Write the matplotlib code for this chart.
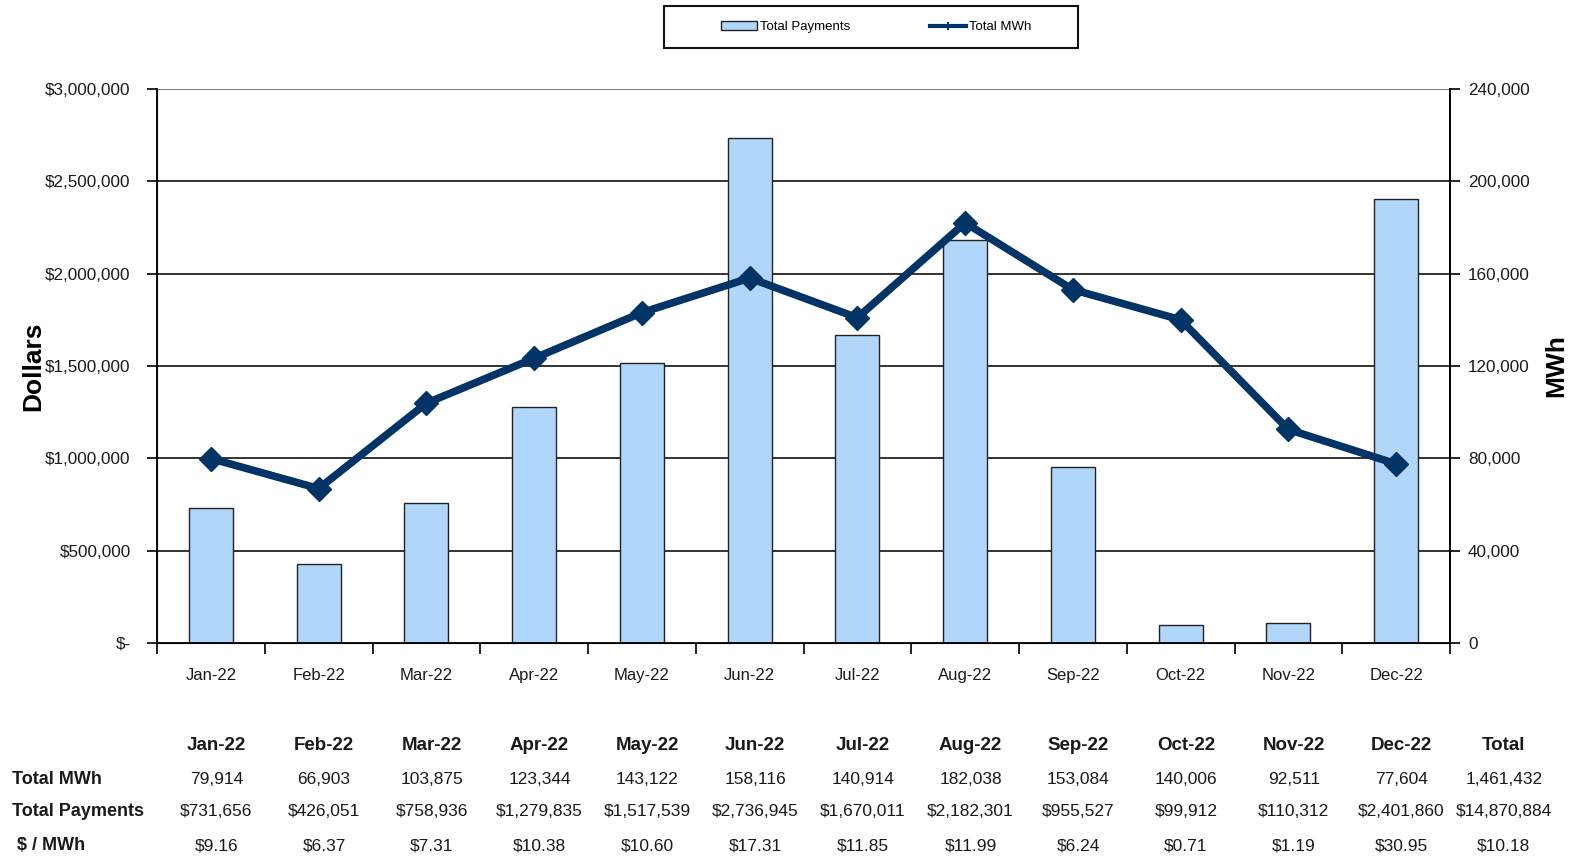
import numpy as np
import matplotlib
matplotlib.use("Agg")
import matplotlib.pyplot as plt
from matplotlib.lines import Line2D
from matplotlib.patches import Patch, Rectangle
from matplotlib.ticker import FuncFormatter, MultipleLocator, FixedLocator
from matplotlib.transforms import blended_transform_factory

plt.rcParams['font.family'] = ['Liberation Sans', 'DejaVu Sans']

months = ['Jan-22', 'Feb-22', 'Mar-22', 'Apr-22', 'May-22', 'Jun-22',
          'Jul-22', 'Aug-22', 'Sep-22', 'Oct-22', 'Nov-22', 'Dec-22']
total_mwh = [79914, 66903, 103875, 123344, 143122, 158116,
             140914, 182038, 153084, 140006, 92511, 77604]
total_payments = [731656, 426051, 758936, 1279835, 1517539, 2736945,
                  1670011, 2182301, 955527, 99912, 110312, 2401860]
dollar_per_mwh = [9.16, 6.37, 7.31, 10.38, 10.60, 17.31,
                  11.85, 11.99, 6.24, 0.71, 1.19, 30.95]
total_col = ['1,461,432', '$14,870,884', '$10.18']

BAR_COLOR = '#B0D6FA'
LINE_COLOR = '#003366'
TXT = '#1a1a1a'

fig = plt.figure(figsize=(15.78, 8.6), dpi=100)
ax = fig.add_axes([157 / 1578, 1 - 643 / 860, 1293 / 1578, 554 / 860])
x = np.arange(len(months))

ax.bar(x, total_payments, width=0.41, color=BAR_COLOR, edgecolor='#222222',
       linewidth=1.0, zorder=2)
ax.set_xlim(-0.5, len(months) - 0.5)
ax.set_ylim(0, 3000000)
ax.yaxis.set_major_locator(MultipleLocator(500000))


def dollar_fmt(v, pos):
    if v == 0:
        return '$-'
    return '${:,.0f}'.format(v)


ax.yaxis.set_major_formatter(FuncFormatter(dollar_fmt))
for yv in np.arange(500000, 3000001, 500000):
    ax.axhline(yv, color='#666666' if yv == 3000000 else '#111111',
               linewidth=1.2, zorder=1)

ax.set_xticks(x)
ax.set_xticklabels(months)
ax.xaxis.set_minor_locator(FixedLocator(np.arange(-0.5, len(months), 1.0)))
ax.tick_params(axis='x', which='major', length=0, pad=18, labelsize=12, labelcolor=TXT)
ax.tick_params(axis='x', which='minor', length=8, width=1.2, direction='out')
ax.tick_params(axis='y', length=7, width=1.2, labelsize=12.3, labelcolor=TXT, pad=12)
ax.spines['top'].set_visible(False)
for s in ['left', 'bottom', 'right']:
    ax.spines[s].set_linewidth(1.3)
ax.set_ylabel('Dollars', fontsize=19, fontweight='bold', labelpad=0)

ax2 = ax.twinx()
ax2.plot(x, total_mwh, color=LINE_COLOR, linewidth=5.5, marker='D', markersize=12,
         zorder=3)
ax2.set_ylim(0, 240000)
ax2.yaxis.set_major_locator(MultipleLocator(40000))
ax2.yaxis.set_major_formatter(FuncFormatter(lambda v, p: '{:,.0f}'.format(v)))
ax2.tick_params(axis='y', length=7, width=1.2, labelsize=12.3, labelcolor=TXT, pad=6)
ax2.spines['top'].set_visible(False)
ax2.spines['right'].set_linewidth(1.3)
ax2.set_ylabel('MWh', fontsize=19, fontweight='bold', labelpad=10)

# legend box at top
fig.patches.append(Rectangle((664 / 1578, 1 - 48 / 860), 414 / 1578, 42 / 860,
                             transform=fig.transFigure, fill=False,
                             edgecolor='#111111', linewidth=1.5))
handles = [Patch(facecolor=BAR_COLOR, edgecolor='#222222', linewidth=1.0),
           Line2D([0], [0], color=LINE_COLOR, linewidth=3, marker='|',
                  markersize=6, markeredgewidth=1.5)]
fig.legend(handles, ['Total Payments', 'Total MWh'], loc='center',
           bbox_to_anchor=(876 / 1578, 1 - 27 / 860), ncol=2, frameon=False,
           fontsize=9.5, handlelength=2.8, handleheight=0.6, columnspacing=6,
           handletextpad=0.2)

# data table under the chart
tr = blended_transform_factory(ax.transData, fig.transFigure)
row_y = [1 - 746 / 860, 1 - 779 / 860, 1 - 812 / 860, 1 - 846 / 860]
FS_HEAD = 13.5
FS_VAL = 12.5
for i, m in enumerate(months):
    ax.text(i + 0.05, row_y[0], m, transform=tr, ha='center', va='center',
            fontsize=FS_HEAD, fontweight='bold', color=TXT)
    ax.text(i + 0.05, row_y[1], '{:,}'.format(total_mwh[i]), transform=tr,
            ha='center', va='center', fontsize=FS_VAL, color=TXT)
    ax.text(i + 0.05, row_y[2], '${:,}'.format(total_payments[i]), transform=tr,
            ha='center', va='center', fontsize=FS_VAL, color=TXT)
    ax.text(i + 0.05, row_y[3], '${:.2f}'.format(dollar_per_mwh[i]), transform=tr,
            ha='center', va='center', fontsize=FS_VAL, color=TXT)
ax.text(12.0, row_y[0], 'Total', transform=tr, ha='center', va='center',
        fontsize=FS_HEAD, fontweight='bold', color=TXT)
for r, val in enumerate(total_col):
    ax.text(12.0, row_y[r + 1], val, transform=tr, ha='center', va='center',
            fontsize=FS_VAL, color=TXT)

row_labels = ['Total MWh', 'Total Payments', ' $ / MWh']
for r, lab in enumerate(row_labels):
    fig.text(12 / 1578, row_y[r + 1], lab, ha='left', va='center', fontsize=13,
             fontweight='bold', color=TXT)

fig.savefig('out.png', dpi=100)
